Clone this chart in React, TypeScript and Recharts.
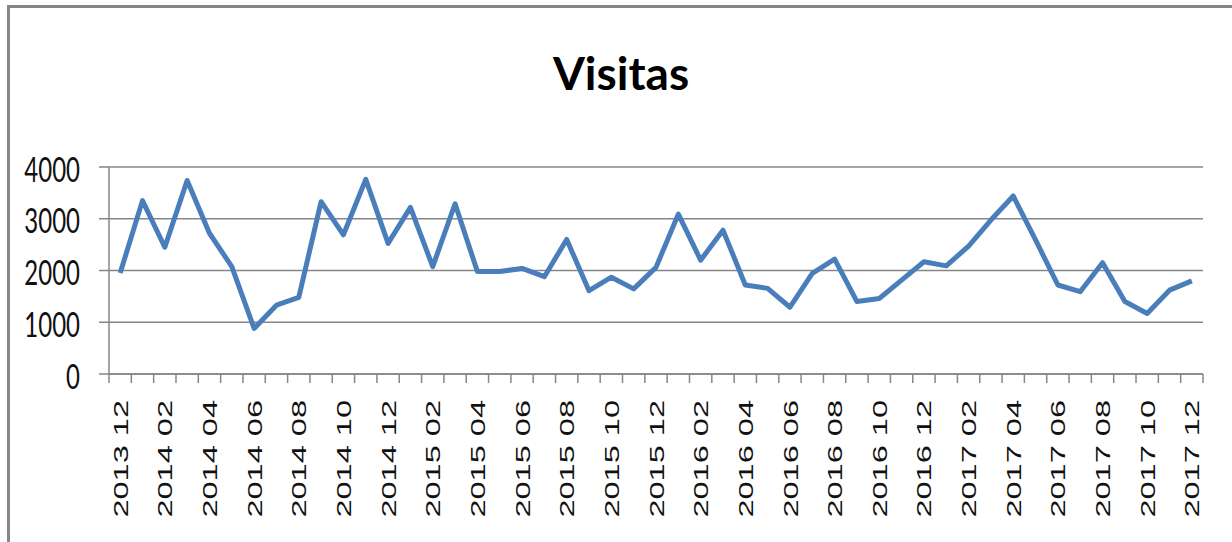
import { CartesianGrid, Line, LineChart, XAxis, YAxis } from 'recharts';

// meses (uno por punto), de 2013 12 a 2017 12
const months = [
  '2013 12',
  '2014 01', '2014 02', '2014 03', '2014 04', '2014 05', '2014 06',
  '2014 07', '2014 08', '2014 09', '2014 10', '2014 11', '2014 12',
  '2015 01', '2015 02', '2015 03', '2015 04', '2015 05', '2015 06',
  '2015 07', '2015 08', '2015 09', '2015 10', '2015 11', '2015 12',
  '2016 01', '2016 02', '2016 03', '2016 04', '2016 05', '2016 06',
  '2016 07', '2016 08', '2016 09', '2016 10', '2016 11', '2016 12',
  '2017 01', '2017 02', '2017 03', '2017 04', '2017 05', '2017 06',
  '2017 07', '2017 08', '2017 09', '2017 10', '2017 11', '2017 12',
];

const visitas = [
  1950,
  3350, 2450, 3740, 2720, 2075, 880,
  1330, 1480, 3330, 2690, 3760, 2525,
  3220, 2075, 3290, 1980, 1980, 2040,
  1880, 2600, 1610, 1870, 1645, 2060,
  3090, 2200, 2780, 1720, 1655, 1290,
  1945, 2220, 1400, 1460, 1815, 2170,
  2090, 2470, 2975, 3440, 2590, 1720,
  1590, 2150, 1400, 1170, 1620, 1800,
];

const yTicks = [0, 1000, 2000, 3000, 4000];

const GRAY = '#868686';
const BLUE = '#4A7EBB';

// each month sits in the middle of its slot on a 0..n axis (Excel-style category axis)
const rows = months.map((month, i) => ({ pos: i + 0.5, month, visitas: visitas[i] }));

// integers -> tick marks between months, halves -> month labels
const xTicks = Array.from({ length: months.length * 2 + 1 }, (_, k) => k / 2);

function XTick({ x, y, payload }: any) {
  const v = payload.value as number;
  if (Number.isInteger(v)) {
    return <line x1={x} y1={y} x2={x} y2={y + 9} stroke={GRAY} strokeWidth={1.5} />;
  }
  const idx = v - 0.5;
  if (idx % 2 !== 0) return <g />;
  return (
    <g transform={`translate(${x},${y + 26})`}>
      <text
        transform="rotate(-90) scale(1.55,1)"
        textAnchor="end"
        dy="0.36em"
        fontFamily="'Liberation Sans', Arial, sans-serif"
        fontSize={21}
        fill="#111"
      >
        {months[idx]}
      </text>
    </g>
  );
}

function YTick({ x, y, payload }: any) {
  return (
    <g transform={`translate(${x},${y + 2})`}>
      <text
        transform="scale(1,1.45)"
        textAnchor="end"
        dy="0.36em"
        fontFamily="Lato, sans-serif"
        fontSize={24}
        fill="#111"
      >
        {payload.value}
      </text>
    </g>
  );
}

export default function App() {
  return (
    <div
      style={{
        position: 'absolute',
        left: 0,
        top: 0,
        width: 1232,
        height: 542,
        background: '#fff',
        overflow: 'hidden',
      }}
    >
      <div
        style={{
          position: 'absolute',
          left: 7,
          top: 5,
          width: 1240,
          height: 560,
          borderTop: `3px solid ${GRAY}`,
          borderLeft: `3px solid ${GRAY}`,
        }}
      />
      <div
        style={{
          position: 'absolute',
          left: 5,
          top: 50,
          width: 1232,
          textAlign: 'center',
          fontFamily: 'Lato, sans-serif',
          fontWeight: 'bold',
          fontSize: 46,
          lineHeight: '46px',
          color: '#000',
        }}
      >
        Visitas
      </div>
      <div style={{ position: 'absolute', left: 0, top: 0 }}>
        <LineChart
          width={1232}
          height={542}
          data={rows}
          margin={{ top: 167, right: 29, bottom: 0, left: 0 }}
        >
          <CartesianGrid vertical={false} stroke={GRAY} strokeWidth={1.5} />
          <XAxis
            dataKey="pos"
            type="number"
            domain={[0, months.length]}
            ticks={xTicks}
            interval={0}
            height={168}
            tickSize={0}
            tickMargin={0}
            tickLine={false}
            axisLine={{ stroke: GRAY, strokeWidth: 1.5 }}
            tick={<XTick />}
          />
          <YAxis
            domain={[0, 4000]}
            ticks={yTicks}
            interval={0}
            width={109}
            tickSize={10}
            tickMargin={19}
            tickLine={{ stroke: GRAY, strokeWidth: 1.5 }}
            axisLine={{ stroke: GRAY, strokeWidth: 1.5 }}
            tick={<YTick />}
          />
          <Line
            type="linear"
            dataKey="visitas"
            stroke={BLUE}
            strokeWidth={5}
            strokeLinejoin="round"
            dot={false}
            activeDot={false}
            isAnimationActive={false}
          />
        </LineChart>
      </div>
    </div>
  );
}
